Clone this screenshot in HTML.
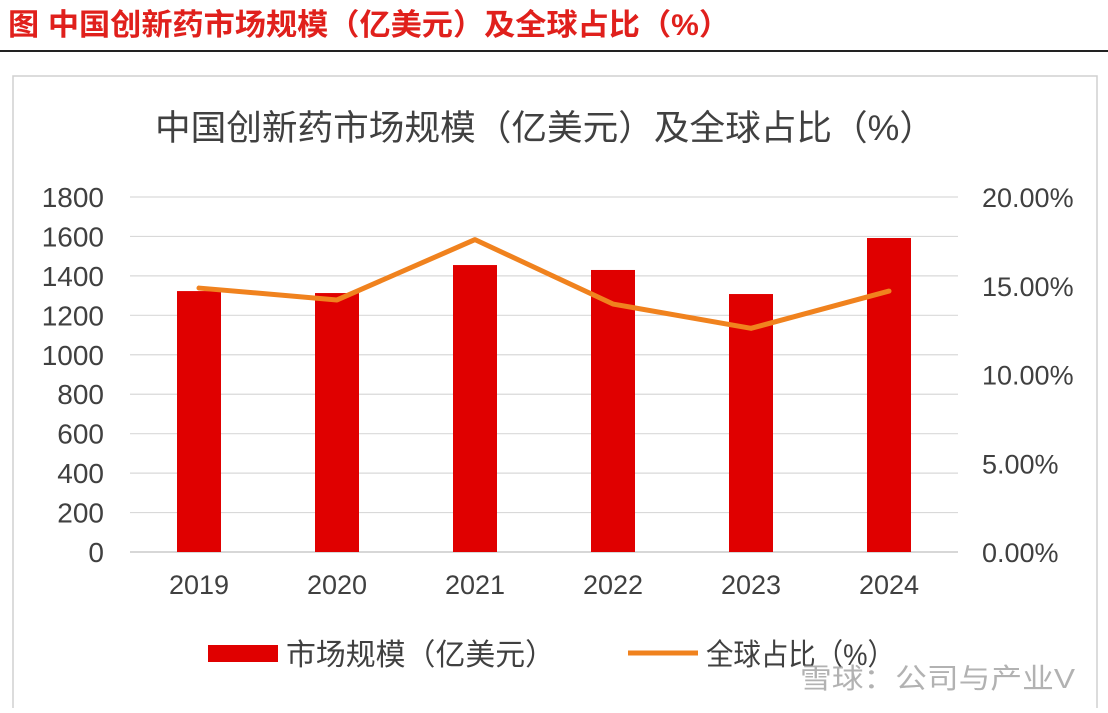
<!DOCTYPE html>
<html><head><meta charset="utf-8"><style>
body{margin:0;width:1108px;height:708px;background:#fff;overflow:hidden;font-family:"Liberation Sans","Noto Sans CJK SC",sans-serif}
</style></head><body>
<svg width="1108" height="708" xmlns="http://www.w3.org/2000/svg" font-family="Liberation Sans, Noto Sans CJK SC, sans-serif">
<text x="8" y="35" font-size="30" font-weight="bold" fill="#e0201c" textLength="722" lengthAdjust="spacingAndGlyphs">图  中国创新药市场规模（亿美元）及全球占比（%）</text>
<line x1="0" y1="51" x2="1108" y2="51" stroke="#222" stroke-width="2"/>
<rect x="13" y="76" width="1084" height="640" fill="none" stroke="#d0d0d0" stroke-width="1.5"/>
<text x="155" y="140" font-size="35" fill="#404040" textLength="780" lengthAdjust="spacingAndGlyphs">中国创新药市场规模（亿美元）及全球占比（%）</text>
<g id="grid"></g><g id="bars"></g><g id="line"></g><g id="axes"></g>
<g>
<rect x="208" y="645" width="70" height="17" fill="#e00000"/>
<text x="286" y="665" font-size="30" fill="#404040" textLength="269" lengthAdjust="spacingAndGlyphs">市场规模（亿美元）</text>
<line x1="628" y1="653" x2="698" y2="653" stroke="#f0821e" stroke-width="5"/>
<text x="706" y="665" font-size="30" fill="#404040" textLength="189" lengthAdjust="spacingAndGlyphs">全球占比（%）</text>
</g>
<text x="800" y="688" font-size="28" fill="#aaa" opacity="0.9" textLength="275" lengthAdjust="spacingAndGlyphs">雪球：公司与产业V</text>
</svg>
<script>
const categories=["2019","2020","2021","2022","2023","2024"];
const marketSize=[1323,1313,1455,1430,1308,1592];
const globalShare=[14.87,14.2,17.6,13.97,12.6,14.7];
const leftTicks=[0,200,400,600,800,1000,1200,1400,1600,1800];
const rightTicks=[0,5,10,15,20];
const ns="http://www.w3.org/2000/svg";
const x0=130,x1=958,yB=552,yT=197;
const yL=v=>yB-(v/1800)*(yB-yT);
const yR=v=>yB-(v/20)*(yB-yT);
const bw=(x1-x0)/categories.length;
const xc=i=>x0+bw*(i+0.5);
function mk(t,a,p){const e=document.createElementNS(ns,t);for(const k in a)e.setAttribute(k,a[k]);document.getElementById(p).appendChild(e);return e;}
leftTicks.forEach(v=>{
 const g=mk("line",{x1:x0,x2:x1,y1:yL(v),y2:yL(v),stroke:v===0?"#bfbfbf":"#d9d9d9","stroke-width":1.2},"grid");
 
 
 const t=mk("text",{x:104,y:yL(v)+10,"font-size":28,fill:"#404040","text-anchor":"end"},"axes");t.textContent=v;
 
 
});
rightTicks.forEach(v=>{
 const t=mk("text",{x:982,y:yR(v)+10,"font-size":27,fill:"#404040"},"axes");t.textContent=v.toFixed(2)+"%";
 
 
});
categories.forEach((c,i)=>{
 const t=mk("text",{x:xc(i),y:594,"font-size":27,fill:"#404040","text-anchor":"middle"},"axes");t.textContent=c;
 
 
 const r=mk("rect",{x:xc(i)-22,y:yL(marketSize[i]),width:44,height:yB-yL(marketSize[i]),fill:"#e00000"},"bars");
 
 
});
const pl=mk("polyline",{points:globalShare.map((v,i)=>xc(i)+","+yR(v)).join(" "),fill:"none",stroke:"#f0821e","stroke-width":5,"stroke-linejoin":"round","stroke-linecap":"round"},"line");


</script>
</body></html>
